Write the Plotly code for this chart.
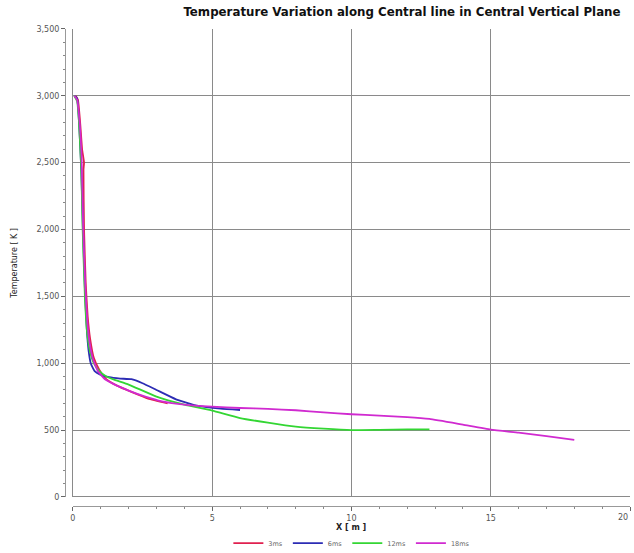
import plotly.graph_objects as go

# series (x in m, temperature in K)
red_x = [0.1, 0.18, 0.26, 0.33, 0.4, 0.38, 0.4, 0.46, 0.53, 0.62, 0.75, 0.95, 1.2, 1.6, 2.1, 2.7, 3.4]
red_y = [3000, 2970, 2800, 2600, 2500, 2450, 2000, 1600, 1350, 1180, 1040, 950, 880, 830, 785, 735, 700]

blue_x = [0.05, 0.15, 0.22, 0.3, 0.36, 0.44, 0.5, 0.56, 0.64, 0.78, 0.98, 1.3, 1.7, 2.1, 2.5, 3.0, 3.7, 4.5, 5.3, 6.0]
blue_y = [3000, 2980, 2800, 2450, 2000, 1500, 1250, 1100, 1000, 940, 915, 895, 885, 880, 850, 800, 730, 680, 660, 650]

green_x = [0.05, 0.15, 0.22, 0.3, 0.35, 0.43, 0.5, 0.6, 0.75, 0.95, 1.2, 1.5, 2.0, 3.0, 4.0, 5.0,
           6.0, 7.0, 8.0, 9.0, 10.0, 11.0, 12.0, 12.8]
green_y = [3000, 2960, 2800, 2450, 2000, 1500, 1250, 1100, 1000, 940, 900, 875, 840, 750, 690, 645,
           590, 555, 525, 510, 500, 502, 505, 505]

magenta_x = [0.05, 0.15, 0.24, 0.31, 0.37, 0.45, 0.52, 0.6, 0.72, 0.9, 1.15, 1.6, 2.0, 2.6, 3.2, 4.0,
             5.0, 6.0, 7.0, 8.0, 9.0, 10.0, 11.0, 12.0, 12.8, 14.0, 15.0, 16.0, 17.0, 18.0]
magenta_y = [3000, 2970, 2800, 2550, 2000, 1550, 1300, 1150, 1030, 940, 880, 830, 795, 750, 715, 690,
             675, 665, 658, 648, 632, 618, 608, 597, 583, 540, 503, 480, 455, 427]

series = [
    ("3ms", red_x, red_y, "#e0204f"),
    ("6ms", blue_x, blue_y, "#2c2cb4"),
    ("12ms", green_x, green_y, "#33d633"),
    ("18ms", magenta_x, magenta_y, "#d02ad0"),
]

fig = go.Figure()
for name, xs, ys, col in series:
    fig.add_trace(go.Scatter(x=xs, y=ys, mode="lines", name=name,
                             line=dict(color=col, width=1.8, shape="spline", smoothing=0.4)))

font = "DejaVu Sans, Verdana, sans-serif"
fig.update_layout(
    width=634, height=553,
    margin=dict(l=65, r=4, t=27, b=47, autoexpand=False),
    paper_bgcolor="white", plot_bgcolor="white",
    font=dict(family=font, size=8, color="#555"),
    title=dict(text="<b>Temperature Variation along Central line in Central Vertical Plane</b>",
               xref="container", x=0.634, xanchor="center",
               yref="container", y=0.978, yanchor="middle",
               font=dict(size=11.8, color="#111")),
    showlegend=True,
    legend=dict(orientation="h", xref="container", x=0.555, xanchor="center",
                yref="container", y=0.018, yanchor="middle",
                font=dict(size=6.5, color="#666"), itemwidth=30),
    xaxis=dict(
        range=[0, 20], domain=[0.014, 1.0], anchor="free", position=0, automargin=False,
        dtick=5, tickformat=",", showgrid=True, gridcolor="#8a8a8a", gridwidth=1,
        zeroline=True, zerolinecolor="#8a8a8a", zerolinewidth=1,
        showline=True, linecolor="#999", ticks="outside", ticklen=4, tickcolor="#666",
        minor=dict(dtick=1, ticks="outside", ticklen=2, tickcolor="#888", showgrid=False),
    ),
    yaxis=dict(
        range=[0, 3500], domain=[0.019, 0.996], anchor="free", position=0, automargin=False,
        dtick=500, tickformat=",", showgrid=True, gridcolor="#8a8a8a", gridwidth=1,
        zeroline=True, zerolinecolor="#8a8a8a", zerolinewidth=1,
        showline=True, linecolor="#999", ticks="outside", ticklen=4, tickcolor="#666",
        minor=dict(dtick=100, ticks="outside", ticklen=2, tickcolor="#888", showgrid=False),
        title=dict(text="Temperature [ K ]", font=dict(size=8, color="#222"), standoff=16),
    ),
)

# x title placed by hand, standoff is ignored without automargin
fig.add_annotation(text="<b>X [ m ]</b>", xref="x", x=10, yref="paper", y=-0.044,
                   yanchor="middle", showarrow=False, font=dict(size=8, color="#222"))

# last x tick label sits right at the window edge, plotly drops it, so put it back
fig.add_annotation(text="20", x=20, xref="x", y=0, yref="paper", yanchor="top", xanchor="right",
                   yshift=-5, showarrow=False, font=dict(size=8, color="#555"))

# drop the default page margin so the figure sits at the window's top-left corner
fig.write_html("out.html", config={"displayModeBar": False},
               post_script="document.body.style.margin='0';")
